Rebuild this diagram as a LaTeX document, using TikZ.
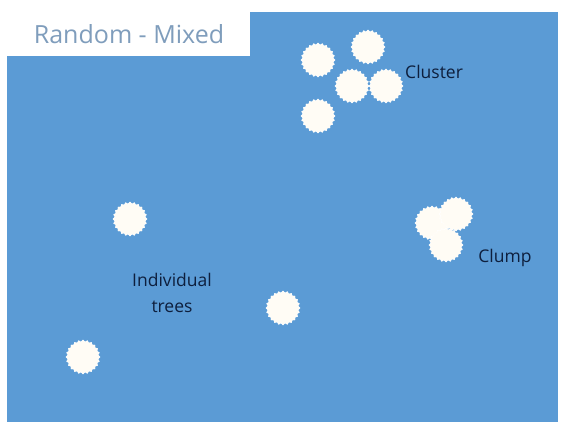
\documentclass[tikz,border=0pt]{standalone}
\usepackage{fontspec}
\setmainfont{Open Sans}
\usetikzlibrary{shapes.geometric}
\definecolor{field}{HTML}{5B9BD5}
\definecolor{titlec}{HTML}{7F9DBC}
\definecolor{labelc}{HTML}{0E1F3D}
\definecolor{treec}{HTML}{FFFCF5}
\tikzset{
  tree/.style={star, star points=24, star point ratio=1.12, minimum size=34pt, inner sep=0pt,
    fill=treec, draw=white, line width=0.4pt},
  lbl/.style={text=labelc, font=\fontsize{17.5}{26}\selectfont, inner sep=0pt, align=center},
}
\begin{document}
\begin{tikzpicture}[x=1pt,y=-1pt]
\useasboundingbox (0,0) rectangle (561,422);
\fill[white] (0,0) rectangle (561,422);
\fill[field] (7,12) rectangle (558,422);
\fill[white] (7,12) rectangle (250,56);
\node[text=titlec, font=\fontsize{25}{30}\selectfont, inner sep=0pt] (title) at (129,34) {Random - Mixed};
% cluster
\node[tree] (c1) at (318,60) {};
\node[tree] (c2) at (368,47) {};
\node[tree] (c3) at (352,86) {};
\node[tree] (c4) at (386,86) {};
\node[tree] (c5) at (318,116) {};
\node[lbl, anchor=west] (cl) at (405,72) {Cluster};
% clump
\node[tree] (k1) at (432,223) {};
\node[tree] (k2) at (456,214) {};
\node[tree] (k3) at (446,245) {};
\node[lbl] (kl) at (505,258) {Clump};
% individual
\node[tree] (i1) at (130,219) {};
\node[tree] (i2) at (283,308) {};
\node[tree] (i3) at (83,357) {};
\node[lbl] (il) at (172,293) {Individual\\trees};
\end{tikzpicture}
\end{document}
